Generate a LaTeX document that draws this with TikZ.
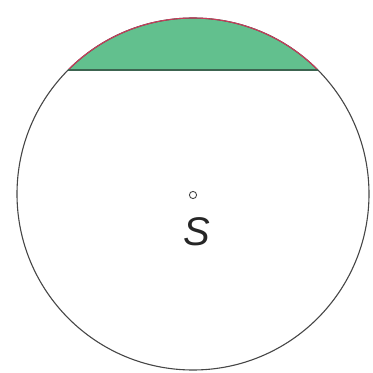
\documentclass[tikz,border=0pt]{standalone}
\usepackage{fontspec}
\setmainfont{Liberation Sans}
\usetikzlibrary{calc}
\definecolor{segfill}{RGB}{98,192,142}
\definecolor{arcred}{RGB}{200,60,90}
\definecolor{chordcol}{RGB}{60,100,80}
\definecolor{circcol}{RGB}{70,70,70}
\tikzset{
  circ/.style={draw=circcol, line width=1.1pt},
  seg/.style={fill=segfill},
  arcline/.style={draw=arcred, line width=1.1pt},
  chordline/.style={draw=chordcol, line width=1.3pt},
  lbl/.style={inner sep=0pt, text=black!85, font=\fontsize{40}{40}\selectfont\itshape}
}
\begin{document}
\begin{tikzpicture}[x=1pt,y=1pt]
\useasboundingbox (0,0) rectangle (373,373);
\coordinate (O) at (193,179);
\coordinate (A) at ($(O)+(135.2:176)$);
\coordinate (B) at ($(O)+(44.8:176)$);
\fill[seg] (B) arc[start angle=44.8, end angle=135.2, radius=176] -- cycle;
\draw[circ] (O) circle[radius=176];
\draw[arcline] (B) arc[start angle=44.8, end angle=135.2, radius=176];
\draw[chordline] (A) -- (B);
\draw[draw=circcol, line width=0.9pt] (193,178) circle[radius=3.6];
\node[lbl] (S) at (197,141) {S};
\end{tikzpicture}
\end{document}
